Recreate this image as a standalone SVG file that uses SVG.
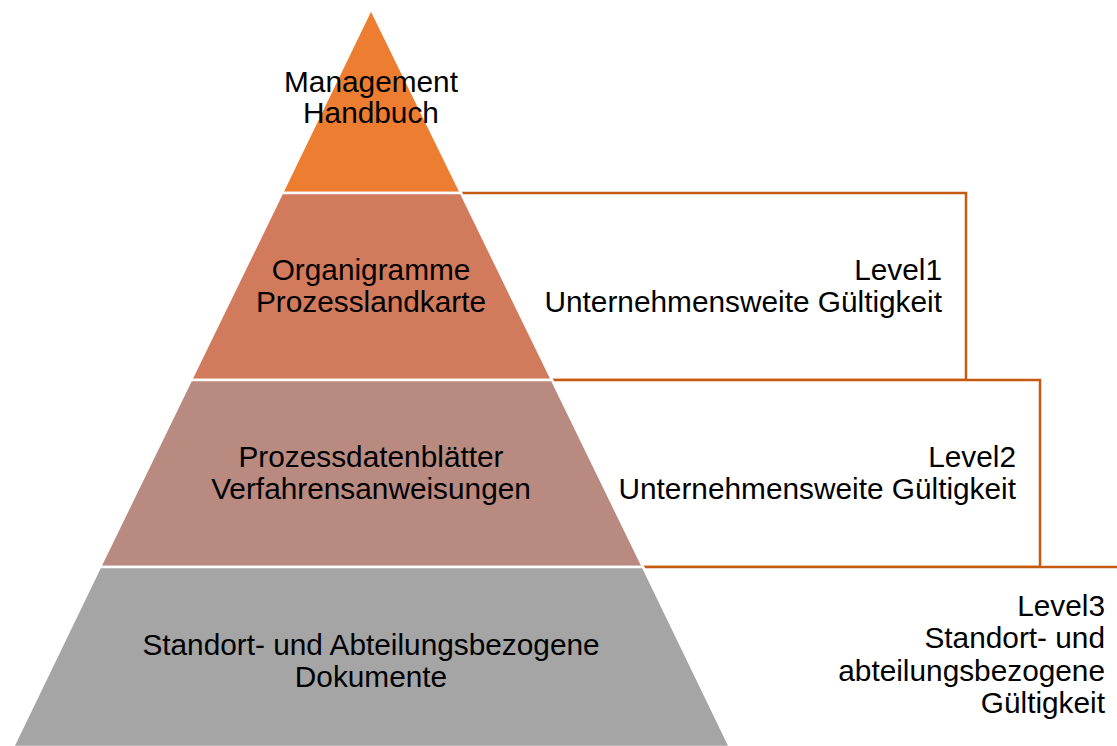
<svg xmlns="http://www.w3.org/2000/svg" width="1117" height="746" viewBox="0 0 1117 746">
<style>
.t{font-family:"Liberation Sans",Arial,sans-serif;font-size:29.8px;fill:#000}
.c{text-anchor:middle}
.r{text-anchor:end}
.br{fill:#fff;stroke:#C55A11;stroke-width:2.5}
.tier{stroke:#fff;stroke-width:2.5}
</style>
<rect width="1117" height="746" fill="#fff"/>
<g id="connectors">
<rect class="br" x="400" y="193" width="566" height="187"/>
<rect class="br" x="400" y="380" width="640" height="187"/>
<rect class="br" x="400" y="567" width="760" height="200"/>
</g>
<g id="tier1">
<polygon class="tier" points="371,9 461,193 282,193" fill="#ED7D31"/>
<text class="t c" x="371" y="92">Management</text>
<text class="t c" x="371" y="123">Handbuch</text>
</g>
<g id="tier2">
<polygon class="tier" points="282,193 461,193 552,380 191,380" fill="#D27A5C"/>
<text class="t c" x="371" y="280">Organigramme</text>
<text class="t c" x="371" y="312">Prozesslandkarte</text>
</g>
<g id="tier3">
<polygon class="tier" points="191,380 552,380 643,567 100,567" fill="#B98A80"/>
<text class="t c" x="371" y="467">Prozessdatenblätter</text>
<text class="t c" x="371" y="499">Verfahrensanweisungen</text>
</g>
<g id="tier4">
<polygon class="tier" points="100,567 643,567 730,747 13,747" fill="#A5A5A5"/>
<text class="t c" x="371" y="655">Standort- und Abteilungsbezogene</text>
<text class="t c" x="371" y="687">Dokumente</text>
</g>
<g id="level1">
<text class="t r" x="942" y="280">Level1</text>
<text class="t r" x="942" y="312">Unternehmensweite Gültigkeit</text>
</g>
<g id="level2">
<text class="t r" x="1016" y="467">Level2</text>
<text class="t r" x="1016" y="499">Unternehmensweite Gültigkeit</text>
</g>
<g id="level3">
<text class="t r" x="1105" y="616">Level3</text>
<text class="t r" x="1105" y="648">Standort- und</text>
<text class="t r" x="1105" y="681">abteilungsbezogene</text>
<text class="t r" x="1105" y="713">Gültigkeit</text>
</g>
</svg>
